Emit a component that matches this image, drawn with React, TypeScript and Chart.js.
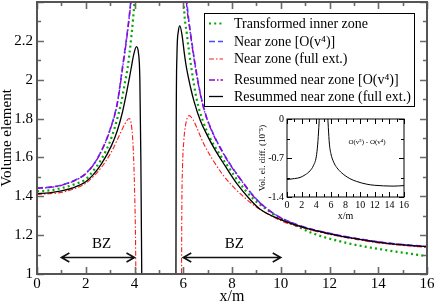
import React, { useEffect, useRef } from "react";
import { Chart, registerables } from "chart.js";
Chart.register(...registerables);

const FONT = "'Liberation Serif', 'Times New Roman', serif";

// ---------- main chart data ----------
const innerX = [0, 0.5, 1, 1.5, 2, 2.3, 2.65, 3.06, 3.45, 3.6, 3.72, 3.88, 4.0, 4.1, 5, 5.95, 6.02, 6.15, 6.33, 6.55, 6.8, 7.1, 7.5, 7.8, 8.3, 8.85, 9.5, 10, 10.6, 11.3, 12.7, 14.06, 16];
const innerY = [1.426, 1.43, 1.442, 1.46, 1.488, 1.53, 1.593, 1.704, 1.88, 1.98, 2.063, 2.234, 2.4, 2.6, null, 2.7, 2.4, 2.234, 2.063, 1.9, 1.79, 1.7, 1.615, 1.56, 1.47, 1.39, 1.325, 1.285, 1.25, 1.21, 1.16, 1.128, 1.092];

const nearX = [0, 0.5, 1, 1.5, 2, 2.5, 3, 3.3, 3.5, 3.7, 3.85, 4.0, 5, 6.0, 6.15, 6.3, 6.5, 6.7, 6.9, 7.2, 7.5, 7.9, 8.4, 8.93, 9.5, 10, 11, 12, 13, 14, 15, 16];
const nearY = [1.443, 1.447, 1.458, 1.48, 1.518, 1.6, 1.745, 1.885, 2.06, 2.24, 2.41, 2.65, null, 2.7, 2.4, 2.24, 2.07, 1.93, 1.83, 1.73, 1.655, 1.57, 1.48, 1.395, 1.33, 1.29, 1.24, 1.21, 1.185, 1.166, 1.152, 1.142];

const nearFullX = [0, 0.5, 1, 1.5, 2, 2.3, 2.65, 3.06, 3.33, 3.61, 3.78, 3.88, 3.95, 4.0, 4.04, 4.06, 5, 5.93, 5.94, 5.97, 6.02, 6.1, 6.24, 6.4, 6.6, 6.82, 7.2, 7.6, 8, 8.5, 9, 10, 11, 12, 13, 14, 15, 16];
const nearFullY = [1.41, 1.413, 1.42, 1.437, 1.467, 1.5, 1.55, 1.63, 1.7, 1.773, 1.8, 1.76, 1.64, 1.45, 1.2, 0.95, null, 0.95, 1.3, 1.55, 1.68, 1.77, 1.815, 1.795, 1.74, 1.675, 1.59, 1.515, 1.455, 1.395, 1.345, 1.275, 1.234, 1.204, 1.18, 1.16, 1.147, 1.137];

const resumX = [0, 0.5, 1, 1.5, 2, 2.5, 3, 3.3, 3.5, 3.7, 3.86, 4.02, 5, 5.98, 6.13, 6.29, 6.49, 6.7, 6.9, 7.2, 7.5, 7.9, 8.4, 8.93, 9.5, 10, 11, 12, 13, 14, 15, 16];
const resumY = [1.441, 1.445, 1.456, 1.478, 1.516, 1.598, 1.742, 1.88, 2.05, 2.23, 2.41, 2.65, null, 2.7, 2.4, 2.24, 2.07, 1.925, 1.825, 1.727, 1.652, 1.567, 1.478, 1.393, 1.329, 1.289, 1.239, 1.209, 1.184, 1.165, 1.151, 1.141];

const resumFullX = [0, 0.5, 1, 1.5, 2, 2.3, 2.65, 3.06, 3.3, 3.5, 3.7, 3.85, 3.97, 4.08, 4.16, 4.22, 4.26, 4.3, 5, 5.7, 5.71, 5.74, 5.8, 5.86, 5.95, 6.05, 6.13, 6.3, 6.44, 6.7, 6.98, 7.3, 7.7, 8.2, 8.73, 9.14, 10, 11, 12, 13, 14, 15, 16];
const resumFullY = [1.414, 1.418, 1.428, 1.445, 1.475, 1.51, 1.568, 1.662, 1.74, 1.83, 1.95, 2.05, 2.13, 2.17, 2.14, 2.0, 1.6, 0.95, null, 0.95, 1.7, 2.12, 2.25, 2.277, 2.23, 2.13, 2.063, 1.96, 1.89, 1.79, 1.715, 1.64, 1.56, 1.465, 1.385, 1.335, 1.28, 1.237, 1.207, 1.183, 1.163, 1.15, 1.14];

const seriesLabels = [
  "Transformed inner zone",
  "Near zone [O(v\u2074)]",
  "Near zone (full ext.)",
  "Resummed near zone [O(v\u2074)]",
  "Resummed near zone (full ext.)",
];

const xTickValues = [0, 2, 4, 6, 8, 10, 12, 14, 16];
const yTickValues = [1, 1.2, 1.4, 1.6, 1.8, 2, 2.2];

// BZ annotations
const bzStart = [1, 6];
const bzEnd = [4, 10];
const bzArrowY = 1.09;
const bzLabelX = [2.65, 8.1];
const bzLabelY = 1.155;

// ---------- inset data ----------
const insetX = [0, 1, 1.78, 2.5, 3.15, 3.6, 4.0, 4.2, 4.35, 4.45, 5, 5.55, 5.65, 5.8, 6.0, 6.4, 6.8, 7.5, 8.6, 9.5, 10.9, 12, 13.2, 14.5, 16];
const insetY = [-1.086, -1.07, -1.05, -1.0, -0.93, -0.84, -0.68, -0.45, -0.15, 0.1, null, 0.1, -0.15, -0.45, -0.62, -0.78, -0.87, -0.97, -1.07, -1.12, -1.17, -1.19, -1.2, -1.205, -1.195];
const insetXTicks = [0, 2, 4, 6, 8, 10, 12, 14, 16];
const insetYTicks = [-1.4, -0.7, 0];

const pts = (xs: number[], ys: (number | null)[]) => xs.map((x, i) => ({ x, y: ys[i] }));

const lineStyles = [
  { color: "#00a800", dash: [2, 3.2], width: 2.2 },
  { color: "#4848ff", dash: [6, 3], width: 1.6 },
  { color: "#ff1a1a", dash: [5, 2, 1.5, 2], width: 1.1 },
  { color: "#9a00d0", dash: [6, 2, 1.5, 2], width: 1.4 },
  { color: "#000000", dash: [], width: 1.3 },
];

function drawFrame(ctx: CanvasRenderingContext2D, chart: any, cfg: any) {
  const { left, right, top, bottom } = chart.chartArea;
  const xs = chart.scales.x;
  const ys = chart.scales.y;
  ctx.save();
  ctx.strokeStyle = cfg.tickColor;
  ctx.lineWidth = cfg.tickWidth;
  ctx.beginPath();
  const nx = Math.round((xs.max - xs.min) / cfg.xMinor);
  for (let i = 0; i <= nx; i++) {
    const v = xs.min + i * cfg.xMinor;
    const r = v / cfg.xMajor;
    const major = Math.abs(r - Math.round(r)) < 1e-6;
    const L = major ? cfg.majorLen : cfg.minorLen;
    const p = Math.round(xs.getPixelForValue(v)) + 0.5;
    ctx.moveTo(p, bottom);
    ctx.lineTo(p, bottom - L);
    ctx.moveTo(p, top);
    ctx.lineTo(p, top + L);
  }
  const ny = Math.round((ys.max - ys.min) / cfg.yMinor);
  for (let i = 0; i <= ny; i++) {
    const v = ys.min + i * cfg.yMinor;
    const r = (v - ys.min) / cfg.yMajor;
    const major = Math.abs(r - Math.round(r)) < 1e-6;
    const L = major ? cfg.majorLen : cfg.minorLen;
    const p = Math.round(ys.getPixelForValue(v)) + 0.5;
    ctx.moveTo(left, p);
    ctx.lineTo(left + L, p);
    ctx.moveTo(right, p);
    ctx.lineTo(right - L, p);
  }
  ctx.stroke();
  ctx.strokeStyle = cfg.frameColor;
  ctx.lineWidth = cfg.frameWidth;
  ctx.strokeRect(left, top, right - left, bottom - top);
  ctx.restore();
}

function drawSample(ctx: CanvasRenderingContext2D, x1: number, x2: number, y: number, st: any) {
  ctx.save();
  ctx.strokeStyle = st.color;
  ctx.lineWidth = st.width;
  ctx.setLineDash(st.dash);
  ctx.beginPath();
  ctx.moveTo(x1, y);
  ctx.lineTo(x2, y);
  ctx.stroke();
  ctx.restore();
}

function arrowHead(ctx: CanvasRenderingContext2D, x: number, y: number, dir: number) {
  ctx.moveTo(x - dir * 8, y - 4.5);
  ctx.lineTo(x, y);
  ctx.lineTo(x - dir * 8, y + 4.5);
}

const mainPlugin = {
  id: "mainDecor",
  afterDatasetsDraw(chart: any) {
    const ctx = chart.ctx as CanvasRenderingContext2D;
    drawFrame(ctx, chart, {
      xMinor: 1, xMajor: 2, yMinor: 0.1, yMajor: 0.2,
      majorLen: 7, minorLen: 4, tickColor: "#6a6a6a", tickWidth: 1.6,
      frameColor: "#555", frameWidth: 2,
    });
    const xs = chart.scales.x;
    const ys = chart.scales.y;
    ctx.save();
    ctx.strokeStyle = "#111";
    ctx.lineWidth = 1.6;
    ctx.fillStyle = "#000";
    ctx.font = `15px ${FONT}`;
    ctx.textAlign = "center";
    ctx.textBaseline = "middle";
    bzStart.forEach((s, i) => {
      const x1 = xs.getPixelForValue(s);
      const x2 = xs.getPixelForValue(bzEnd[i]);
      const y = Math.round(ys.getPixelForValue(bzArrowY)) + 0.5;
      ctx.beginPath();
      ctx.moveTo(x1, y);
      ctx.lineTo(x2, y);
      arrowHead(ctx, x1, y, -1);
      arrowHead(ctx, x2, y, 1);
      ctx.stroke();
      ctx.fillText("BZ", xs.getPixelForValue(bzLabelX[i]), ys.getPixelForValue(bzLabelY));
    });
    ctx.restore();

    // legend
    const bx = 204.5, by = 13.5, bw = 210, bh = 93;
    ctx.save();
    ctx.fillStyle = "#fff";
    ctx.fillRect(bx, by, bw, bh);
    ctx.strokeStyle = "#000";
    ctx.lineWidth = 1;
    ctx.strokeRect(bx, by, bw, bh);
    const rows = [23.5, 41.5, 59, 80, 96.5];
    ctx.font = `14px ${FONT}`;
    ctx.fillStyle = "#000";
    ctx.textAlign = "left";
    ctx.textBaseline = "middle";
    seriesLabels.forEach((lab, i) => {
      drawSample(ctx, 209, 223, rows[i], lineStyles[i]);
      ctx.fillText(lab, 234, rows[i] + 0.5);
    });
    ctx.restore();
  },
};

const insetPlugin = {
  id: "insetDecor",
  beforeDatasetsDraw(chart: any) {
    const { left, right, top, bottom } = chart.chartArea;
    const ctx = chart.ctx as CanvasRenderingContext2D;
    ctx.save();
    ctx.fillStyle = "#fff";
    ctx.fillRect(left, top, right - left, bottom - top);
    ctx.restore();
  },
  afterDatasetsDraw(chart: any) {
    const ctx = chart.ctx as CanvasRenderingContext2D;
    drawFrame(ctx, chart, {
      xMinor: 1, xMajor: 2, yMinor: 0.35, yMajor: 0.7,
      majorLen: 5, minorLen: 3, tickColor: "#000", tickWidth: 1,
      frameColor: "#000", frameWidth: 1,
    });
    const { right, top } = chart.chartArea;
    ctx.save();
    ctx.fillStyle = "#000";
    ctx.font = `7px ${FONT}`;
    ctx.textAlign = "center";
    ctx.textBaseline = "middle";
    ctx.fillText("O(v\u2075) - O(v\u2074)", right - 37, top + 23);
    ctx.restore();
  },
};

const fmt = (v: number) => String(Number(Number(v).toFixed(2)));

const fitX = (h: number) => (s: any) => {
  s.height = h;
  s.paddingLeft = 0;
  s.paddingRight = 0;
  s.paddingTop = 0;
  s.paddingBottom = 0;
};
const fitY = (w: number) => (s: any) => {
  s.width = w;
  s.paddingLeft = 0;
  s.paddingRight = 0;
  s.paddingTop = 0;
  s.paddingBottom = 0;
};

export default function App() {
  const mainRef = useRef<HTMLCanvasElement>(null);
  const insetRef = useRef<HTMLCanvasElement>(null);

  useEffect(() => {
    const data = [
      pts(innerX, innerY),
      pts(nearX, nearY),
      pts(nearFullX, nearFullY),
      pts(resumX, resumY),
      pts(resumFullX, resumFullY),
    ];
    const orders = [4, 2, 3, 1, 0];
    const main = new Chart(mainRef.current!, {
      type: "line",
      data: {
        datasets: data.map((d, i) => ({
          label: seriesLabels[i],
          data: d,
          borderColor: lineStyles[i].color,
          borderWidth: lineStyles[i].width,
          borderDash: lineStyles[i].dash,
          pointRadius: 0,
          fill: false,
          spanGaps: false,
          cubicInterpolationMode: "monotone" as const,
          order: orders[i],
        })),
      },
      options: {
        animation: false,
        responsive: false,
        devicePixelRatio: 1,
        layout: { padding: { left: 0, top: 2, right: 9, bottom: 0 } },
        plugins: { legend: { display: false }, tooltip: { enabled: false } },
        scales: {
          x: {
            type: "linear",
            min: 0,
            max: 16,
            afterFit: fitX(31),
            afterBuildTicks: (s: any) => { s.ticks = xTickValues.map((v) => ({ value: v })); },
            grid: { display: false, drawTicks: false },
            border: { display: false },
            ticks: { padding: 1, autoSkip: false, maxRotation: 0, color: "#000", font: { family: FONT, size: 15 }, callback: (v: any) => fmt(v) },
            title: { display: true, text: "x/m", color: "#000", font: { family: FONT, size: 16, lineHeight: 1 }, padding: { top: 0, bottom: 0 } },
          },
          y: {
            type: "linear",
            min: 1,
            max: 2.4,
            afterFit: fitY(37),
            afterBuildTicks: (s: any) => { s.ticks = yTickValues.map((v) => ({ value: v })); },
            grid: { display: false, drawTicks: false },
            border: { display: false },
            ticks: { padding: 4, autoSkip: false, color: "#000", font: { family: FONT, size: 15 }, callback: (v: any) => fmt(v) },
            title: { display: true, text: "Volume element", color: "#000", font: { family: FONT, size: 15, lineHeight: 1 }, padding: { top: 0, bottom: 0 } },
          },
        },
      },
      plugins: [mainPlugin],
    } as any);

    const inset = new Chart(insetRef.current!, {
      type: "line",
      data: {
        datasets: [
          {
            data: pts(insetX, insetY),
            borderColor: "#000",
            borderWidth: 1,
            pointRadius: 0,
            fill: false,
            spanGaps: false,
            cubicInterpolationMode: "monotone" as const,
          },
        ],
      },
      options: {
        animation: false,
        responsive: false,
        devicePixelRatio: 1,
        layout: { padding: { left: 0, top: 11, right: 16, bottom: 0 } },
        plugins: { legend: { display: false }, tooltip: { enabled: false } },
        scales: {
          x: {
            type: "linear",
            min: 0,
            max: 16,
            afterFit: fitX(31),
            afterBuildTicks: (s: any) => { s.ticks = insetXTicks.map((v) => ({ value: v })); },
            grid: { display: false, drawTicks: false },
            border: { display: false },
            ticks: { padding: 2, autoSkip: false, maxRotation: 0, color: "#000", font: { family: FONT, size: 10 }, callback: (v: any) => fmt(v) },
            title: { display: true, text: "x/m", color: "#000", font: { family: FONT, size: 10, lineHeight: 1 }, padding: { top: 0, bottom: 7 } },
          },
          y: {
            type: "linear",
            min: -1.4,
            max: 0,
            afterFit: fitY(37),
            afterBuildTicks: (s: any) => { s.ticks = insetYTicks.map((v) => ({ value: v })); },
            grid: { display: false, drawTicks: false },
            border: { display: false },
            ticks: { padding: 3, autoSkip: false, color: "#000", font: { family: FONT, size: 10 }, callback: (v: any) => fmt(v) },
            title: { display: true, text: "Vol. el. diff. (10\u207B\u2075)", color: "#000", font: { family: FONT, size: 9, lineHeight: 1 }, padding: { top: 8, bottom: 0 } },
          },
        },
      },
      plugins: [insetPlugin],
    } as any);

    return () => {
      main.destroy();
      inset.destroy();
    };
  }, []);

  return (
    <div style={{ position: "fixed", left: 0, top: 0, width: 436, height: 305, background: "#fff" }}>
      <canvas ref={mainRef} width={436} height={305} style={{ position: "absolute", left: 0, top: 0, width: 436, height: 305 }} />
      <canvas ref={insetRef} width={170} height={120} style={{ position: "absolute", left: 250, top: 108, width: 170, height: 120 }} />
    </div>
  );
}
